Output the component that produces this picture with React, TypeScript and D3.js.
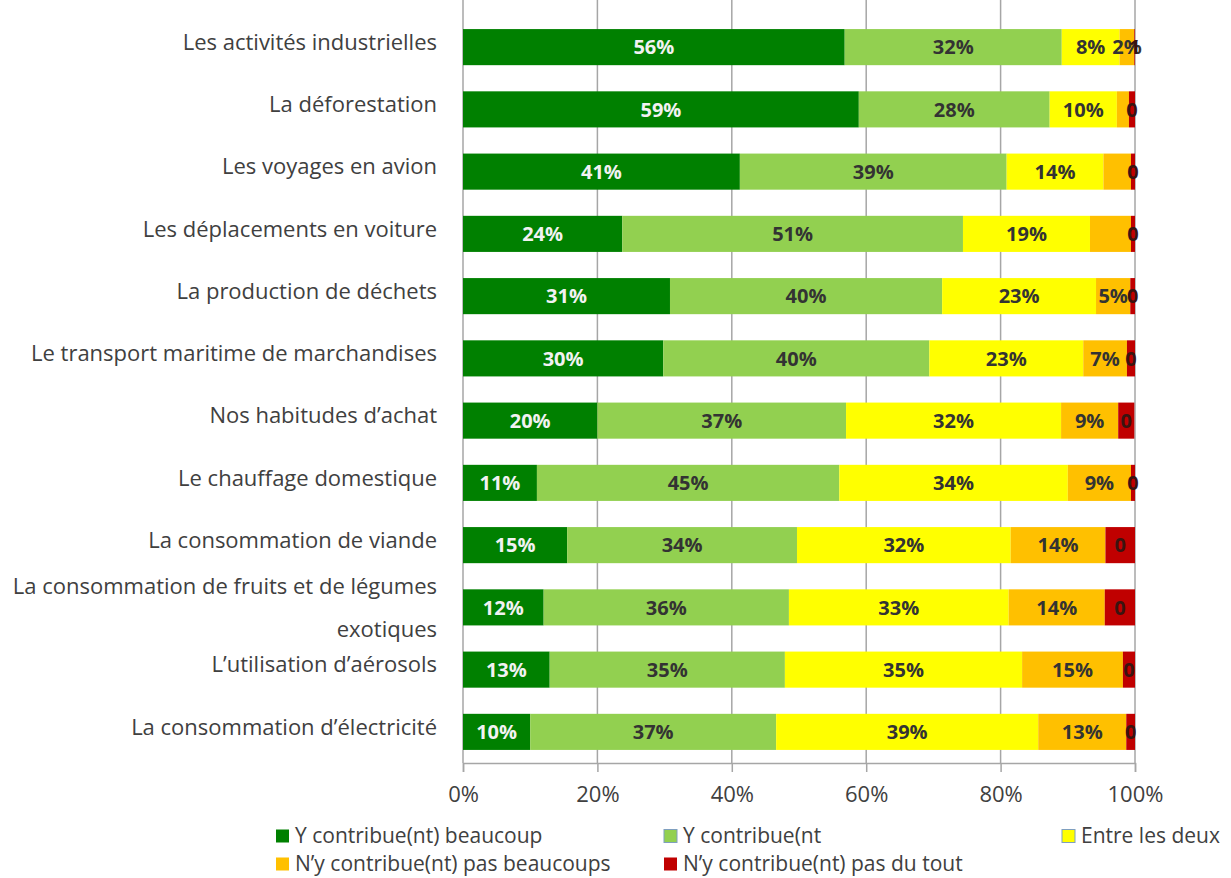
import React, { useEffect, useRef } from 'react';
import * as d3 from 'd3';

const categories = [
  'Les activités industrielles',
  'La déforestation',
  'Les voyages en avion',
  'Les déplacements en voiture',
  'La production de déchets',
  'Le transport maritime de marchandises',
  'Nos habitudes d’achat',
  'Le chauffage domestique',
  'La consommation de viande',
  'La consommation de fruits et de légumes|exotiques',
  'L’utilisation d’aérosols',
  'La consommation d’électricité',
];

const seriesNames = [
  'Y contribue(nt) beaucoup',
  'Y contribue(nt',
  'Entre les deux',
  'N’y contribue(nt) pas beaucoups',
  'N’y contribue(nt) pas du tout',
];

const colors = ['#008000', '#92d050', '#ffff00', '#ffc000', '#c00000'];

// share of answers per category, in %
const beaucoup = [56.8, 58.9, 41.2, 23.7, 30.8, 29.8, 20.0, 11.0, 15.5, 12.0, 12.9, 10.0];
const contribue = [32.3, 28.4, 39.7, 50.7, 40.5, 39.6, 37.0, 45.0, 34.2, 36.5, 35.0, 36.6];
const entreDeux = [8.6, 10.0, 14.4, 18.9, 22.9, 22.9, 32.0, 34.0, 31.8, 32.7, 35.3, 39.0];
const pasBeaucoup = [2.2, 1.8, 4.1, 6.1, 5.1, 6.5, 8.5, 9.4, 14.1, 14.3, 15.0, 13.1];
const pasDuTout = [0.1, 0.9, 0.6, 0.6, 0.7, 1.2, 2.4, 0.6, 4.4, 4.5, 1.8, 1.3];

// data labels as printed on the bars
const labelsBeaucoup = ['56%', '59%', '41%', '24%', '31%', '30%', '20%', '11%', '15%', '12%', '13%', '10%'];
const labelsContribue = ['32%', '28%', '39%', '51%', '40%', '40%', '37%', '45%', '34%', '36%', '35%', '37%'];
const labelsEntreDeux = ['8%', '10%', '14%', '19%', '23%', '23%', '32%', '34%', '32%', '33%', '35%', '39%'];
const labelsPasBeaucoup = ['2%', '', '', '', '5%', '7%', '9%', '9%', '14%', '14%', '15%', '13%'];
const labelsPasDuTout = ['1', '0', '0', '0', '0', '0', '0', '0', '0', '0', '0', '0'];

const xTicks = [0, 20, 40, 60, 80, 100];

const App = () => {
  const ref = useRef<SVGSVGElement>(null);

  useEffect(() => {
    document.body.style.margin = '0';
    const font = '"Open Sans", Lato, sans-serif';
    const svg = d3.select(ref.current);
    svg.selectAll('*').remove();

    const series = [beaucoup, contribue, entreDeux, pasBeaucoup, pasDuTout];
    const labels = [labelsBeaucoup, labelsContribue, labelsEntreDeux, labelsPasBeaucoup, labelsPasDuTout];
    const top = 16;
    const bottom = 763;

    const x = d3.scaleLinear().domain([0, 100]).range([463, 1135]);
    const y = d3.scaleBand<number>()
      .domain(d3.range(categories.length))
      .range([top, bottom])
      .paddingInner(0.42)
      .paddingOuter(0.21);

    // vertical grid
    svg.append('g')
      .selectAll('line')
      .data(xTicks)
      .enter().append('line')
      .attr('x1', (d) => x(d))
      .attr('x2', (d) => x(d))
      .attr('y1', 0)
      .attr('y2', bottom)
      .attr('stroke', '#a6a6a6')
      .attr('stroke-width', 1.5);

    // stacked bars
    const rows = categories.map((c, i) => {
      let acc = 0;
      return series.map((s, k) => {
        const seg = { i, k, x0: acc, x1: acc + s[i], label: labels[k][i] };
        acc += s[i];
        return seg;
      });
    });
    const segs = rows.flat();

    svg.append('g')
      .selectAll('rect')
      .data(segs)
      .enter().append('rect')
      .attr('x', (d) => x(d.x0))
      .attr('width', (d) => Math.max(0, x(d.x1) - x(d.x0)))
      .attr('y', (d) => y(d.i) as number)
      .attr('height', y.bandwidth())
      .attr('fill', (d) => colors[d.k]);

    svg.append('g')
      .selectAll('text')
      .data(segs.filter((d) => d.label !== ''))
      .enter().append('text')
      .attr('x', (d) => x((d.x0 + d.x1) / 2))
      .attr('y', (d) => (y(d.i) as number) + y.bandwidth() / 2)
      .attr('dy', '0.36em')
      .attr('text-anchor', 'middle')
      .style('font-family', font)
      .style('font-size', '20px')
      .style('font-weight', 'bold')
      .style('fill', (d) => (d.k === 0 ? '#f2f2f2' : d.k === 4 ? '#3a1410' : '#333333'))
      .text((d) => d.label);

    // category labels
    const catG = svg.append('g');
    categories.forEach((c, i) => {
      const lines = c.split('|');
      const cy = (y(i) as number) + y.bandwidth() / 2;
      const lh = 43;
      lines.forEach((ln, j) => {
        catG.append('text')
          .attr('x', 437)
          .attr('y', lines.length > 1 ? cy + (j - (lines.length - 1) / 2) * lh : cy - 5)
          .attr('dy', '0.35em')
          .attr('text-anchor', 'end')
          .style('font-family', font)
          .style('font-size', '22px')
          .style('fill', '#404040')
          .text(ln);
      });
    });

    // x axis
    const axis = svg.append('g')
      .attr('transform', `translate(0,${bottom})`)
      .call(d3.axisBottom(x).tickValues(xTicks).tickSize(9).tickPadding(14).tickFormat((d) => `${d}%`));
    axis.select('.domain').attr('stroke', '#a6a6a6').attr('stroke-width', 1.5);
    axis.selectAll('.tick line').attr('stroke', '#a6a6a6').attr('stroke-width', 1.5);
    axis.selectAll('.tick text')
      .style('font-family', font)
      .style('font-size', '22px')
      .style('fill', '#404040');

    // legend
    const legendPos = [[276, 836], [664, 836], [1062, 836], [276, 864], [664, 864]];
    const legend = svg.append('g')
      .selectAll('g')
      .data(seriesNames)
      .enter().append('g')
      .attr('transform', (d, k) => `translate(${legendPos[k][0]},${legendPos[k][1]})`);
    legend.append('rect')
      .attr('x', 0)
      .attr('y', -6.5)
      .attr('width', 13)
      .attr('height', 13)
      .attr('fill', (d, k) => colors[k])
      .attr('stroke', (d, k) => (k === 1 || k === 2 ? '#7f9fbf' : 'none'))
      .attr('stroke-width', 1);
    legend.append('text')
      .attr('x', 19)
      .attr('dy', '0.35em')
      .style('font-family', font)
      .style('font-size', '21px')
      .style('fill', '#404040')
      .text((d) => d);
  }, []);

  return (
    <svg ref={ref} width={1231} height={878} style={{ display: 'block', background: '#fff' }} />
  );
};

export default App;
